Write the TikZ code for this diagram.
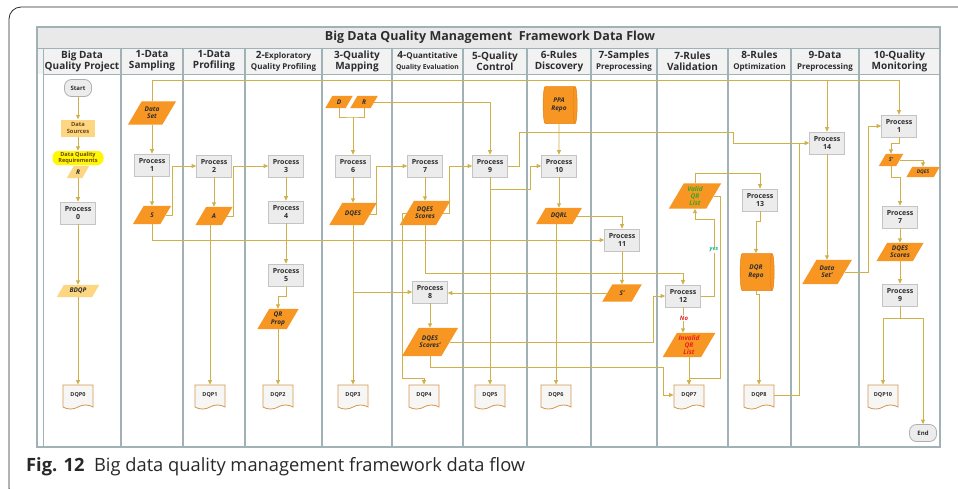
\documentclass[tikz,border=0pt]{standalone}
\usepackage{fontspec}
\setmainfont{Open Sans}
\usetikzlibrary{arrows.meta,shapes.geometric,shapes.symbols,calc,patterns}
\pgfdeclarelayer{lanes}
\pgfdeclarelayer{shapes}
\pgfsetlayers{lanes,shapes,main}

\definecolor{flowc}{RGB}{208,176,72}
\definecolor{lanec}{RGB}{160,178,182}
\definecolor{darkor}{RGB}{247,150,34}
\definecolor{repodraw}{RGB}{228,128,20}
\definecolor{lightor}{RGB}{253,214,130}
\definecolor{reqc}{RGB}{255,248,0}
\definecolor{procfill}{RGB}{236,236,236}
\definecolor{procdraw}{RGB}{196,196,196}
\definecolor{docdraw}{RGB}{214,150,80}
\definecolor{docfill}{RGB}{246,246,244}
\definecolor{pilldraw}{RGB}{175,175,175}
\definecolor{txt}{RGB}{45,45,45}
\definecolor{srctxt}{RGB}{110,70,20}
\definecolor{hdrfill}{RGB}{242,242,242}
\definecolor{titlefill}{RGB}{232,232,232}
\definecolor{validc}{RGB}{50,170,40}
\definecolor{invalidc}{RGB}{235,30,30}
\definecolor{yesc}{RGB}{20,180,130}
\definecolor{framec}{RGB}{40,40,40}

\newcommand\fs[2]{\fontsize{#1}{#2}\selectfont}
\newcommand\hsm{\fontsize{8}{9}\selectfont}
\newcommand\hxsm{\fontsize{6.8}{8}\selectfont}

\tikzset{
  flow/.style={draw=flowc, line width=0.9pt, -{Triangle[length=4.5pt,width=4pt]}},
  link/.style={draw=flowc, line width=0.9pt},
  hdr/.style={align=center, font=\fs{10}{11}\bfseries, text=txt, inner sep=0pt},
  proc/.style={rectangle, fill=procfill, draw=procdraw, line width=0.7pt,
    minimum width=35pt, minimum height=22pt, inner sep=0pt, align=center,
    font=\fs{7}{8}\bfseries, text=txt},
  pgtext/.style={rectangle, inner sep=0pt, align=center,
    font=\fs{6.5}{7.2}\bfseries\itshape, text=txt},
  docu/.style={tape, tape bend top=none, tape bend bottom=in and out,
    tape bend height=4pt, draw=docdraw, fill=docfill, line width=0.8pt,
    minimum width=30pt, minimum height=24pt, inner sep=0pt,
    font=\fs{5.5}{6.5}\bfseries, text=txt},
  repo/.style={cylinder, shape border rotate=0, aspect=0.3, fill=darkor,
    draw=repodraw, line width=0.5pt, minimum width=37pt, minimum height=34pt,
    inner sep=0pt, align=center, font=\fs{6.5}{7.2}\bfseries\itshape, text=txt},
  pill/.style={rectangle, rounded corners=7pt, fill=procfill, draw=pilldraw,
    line width=0.8pt, minimum width=27pt, minimum height=17pt, inner sep=0pt,
    font=\fs{6}{7}\bfseries, text=txt},
  srcbox/.style={rectangle, fill=lightor, minimum width=34pt, minimum height=17pt,
    inner sep=0pt, align=center, font=\fs{5.8}{6.6}\bfseries, text=srctxt},
  reqbox/.style={rectangle, rounded corners=6pt, fill=reqc, minimum width=51pt,
    minimum height=14pt, inner sep=0pt, align=center, font=\fs{5.6}{6}\bfseries,
    text=srctxt},
}

% parallelogram: [fill]{name}{position}{mid width}{height}{extra style}{text}
\newcommand\pgram[7][darkor]{%
  \node[pgtext, minimum width=#4, minimum height=#5, #6] (#2) at (#3) {#7};
  \begin{pgfonlayer}{shapes}
    \fill[#1] ($(#2.south west)+(-0.3*#5,0pt)$) -- ($(#2.south east)+(-0.3*#5,0pt)$)
      -- ($(#2.north east)+(0.3*#5,0pt)$) -- ($(#2.north west)+(0.3*#5,0pt)$) -- cycle;
  \end{pgfonlayer}}

\begin{document}
\begin{tikzpicture}[x=1pt,y=-1pt]
\useasboundingbox (0,0) rectangle (958,488);

% page, frame, swimlanes
\begin{pgfonlayer}{lanes}
  \fill[white] (0,0) rectangle (958,488);
  \draw[framec, line width=0.8pt, rounded corners=12pt] (9,7) rectangle (990,500);
  \fill[titlefill] (37,27) rectangle (940,48);
  \fill[pattern=north east lines, pattern color=white!85!gray] (37,27) rectangle (940,48);
  \fill[hdrfill] (37,48) rectangle (940,74);
  \foreach \x in {121,183,245,322,392,463,527,591,657,728,791,859}
    {\draw[lanec, line width=1.1pt] (\x,48) -- (\x,447);}
  \draw[lanec, line width=0.8pt] (43,48) -- (43,447);
  \draw[lanec, line width=0.8pt] (43,74) -- (940,74);
  \draw[lanec, line width=0.8pt] (37,48) -- (940,48);
  \draw[lanec, line width=1.1pt] (37,27) rectangle (940,447);
\end{pgfonlayer}

% title and lane headers
\node[font=\fs{12.5}{14}\bfseries, text=txt, inner sep=0pt] (title) at (490,37.5)
  {Big Data Quality Management\ \ Framework Data Flow};
\node[hdr] (h0) at (82,61) {Big Data\\Quality Project};
\node[hdr] (h1) at (152,61) {1-Data\\Sampling};
\node[hdr] (h2) at (214,61) {1-Data\\Profiling};
\node[hdr] (h3) at (283.5,61) {2-{\hsm Exploratory}\\{\hsm Quality Profiling}};
\node[hdr] (h4) at (357,61) {3-Quality\\Mapping};
\node[hdr] (h5) at (427.5,61) {4-{\hsm Quantitative}\\{\hxsm Quality Evaluation}};
\node[hdr] (h6) at (495,61) {5-Quality\\Control};
\node[hdr] (h7) at (559,61) {6-Rules\\Discovery};
\node[hdr] (h8) at (624,61) {7-Samples\\{\hsm Preprocessing}};
\node[hdr] (h9) at (692.5,61) {7-Rules\\Validation};
\node[hdr] (h10) at (759.5,61) {8-Rules\\{\hsm Optimization}};
\node[hdr] (h11) at (825,61) {9-Data\\{\hsm Preprocessing}};
\node[hdr] (h12) at (899.5,61) {10-Quality\\Monitoring};

% Big Data Quality Project
\node[pill] (start) at (78,88) {Start};
\node[srcbox] (dsrc) at (78,128) {Data\\Sources};
\node[reqbox] (req) at (78,158) {Data Quality\\Requirements};
\pgram[lightor]{r0}{78,172}{15pt}{12pt}{}{R};
\node[proc] (p0) at (78,213) {Process\\0};
\pgram[lightor]{bdqp}{78,291}{35pt}{12pt}{}{BDQP};
\node[docu] (dqp0) at (78,395) {DQP0};

% 1-Data Sampling
\pgram{dset}{152,113}{34pt}{23pt}{}{Data\\Set};
\node[proc] (p1) at (152,165) {Process\\1};
\pgram{s}{152,215}{27pt}{18pt}{}{S};

% 1-Data Profiling
\node[proc] (p2) at (214,166) {Process\\2};
\pgram{a}{214,216}{26pt}{18pt}{}{A};
\node[docu] (dqp1) at (210,395) {DQP1};

% 2-Exploratory Quality Profiling
\node[proc] (p3) at (286,166) {Process\\3};
\node[proc] (p4) at (286,212) {Process\\4};
\node[proc] (p5) at (286,275) {Process\\5};
\pgram{qr}{278,319}{29pt}{20pt}{}{QR\\Prop};
\node[docu] (dqp2) at (278,395) {DQP2};

% 3-Quality Mapping
\pgram{d}{339,102}{20pt}{12pt}{}{D};
\pgram{r4}{364,102}{20pt}{12pt}{}{R};
\node[proc] (p6) at (353,166) {Process\\6};
\pgram{dqes}{353,214}{34pt}{22pt}{}{DQES};
\node[docu] (dqp3) at (353,395) {DQP3};

% 4-Quantitative Quality Evaluation
\node[proc] (p7) at (425,166) {Process\\7};
\pgram{dqess}{425,213}{36pt}{24pt}{}{DQES\\Scores};
\node[proc] (p8) at (430,292) {Process\\8};
\pgram{dqesp}{430,342}{39pt}{28pt}{}{DQES\\Scores'};
\node[docu] (dqp4) at (424,395) {DQP4};

% 5-Quality Control
\node[proc] (p9) at (490,166) {Process\\9};
\node[docu] (dqp5) at (490,395) {DQP5};

% 6-Rules Discovery
\node[repo] (ppa) at (559,105) {PPA\\Repo};
\node[proc] (p10) at (559,166) {Process\\10};
\pgram{dqrl}{559,216}{36pt}{16pt}{}{DQRL};
\node[docu] (dqp6) at (556,395) {DQP6};

% 7-Samples Preprocessing
\node[proc] (p11) at (622,240) {Process\\11};
\pgram{sp}{622,293}{29pt}{17pt}{}{S'};

% 7-Rules Validation
\node[proc] (p12) at (683,296) {Process\\12};
\pgram{inv}{689,345}{38pt}{24pt}{text=invalidc}{Invalid\\QR\\List};
\pgram{val}{695,196}{37pt}{25pt}{text=validc}{Valid\\QR\\List};
\node[docu] (dqp7) at (689,395) {DQP7};

% 8-Rules Optimization
\node[proc] (p13) at (760,200) {Process\\13};
\node[repo] (dqrr) at (756,272) {DQR\\Repo};
\node[docu] (dqp8) at (759,395) {DQP8};

% 9-Data Preprocessing
\node[proc] (p14) at (827,143) {Process\\14};
\pgram{dset2}{827,272}{35pt}{24pt}{}{Data\\Set'};

% 10-Quality Monitoring
\node[proc] (q1) at (899,126) {Process\\1};
\pgram{sp2}{891,160}{17pt}{12pt}{font=\fs{5.5}{6}\bfseries\itshape}{S'};
\pgram{dqes2}{923,172}{27pt}{10pt}{font=\fs{5}{6}\bfseries\itshape}{DQES};
\node[proc] (q7) at (900,217) {Process\\7};
\pgram{dqess3}{900,252}{36pt}{18pt}{}{DQES\\Scores};
\node[proc] (q9) at (900,295) {Process\\9};
\node[docu] (dqp10) at (883,395) {DQP10};
\node[pill] (endn) at (923,433) {End};

% helper levels
\coordinate (topl) at (152,80);
\coordinate (dj) at (353,117);
\coordinate (c132) at (0,132);
\coordinate (c189) at (0,189);
\coordinate (c219) at (0,219);
\coordinate (c273) at (0,273);
\coordinate (c367) at (0,367);
\coordinate (c378) at (0,378);
\coordinate (k1) at (653,0);
\coordinate (k2) at (663,0);
\coordinate (k3) at (530,0);
\coordinate (k4) at (519,0);
\coordinate (k5) at (733,0);
\coordinate (k6) at (714,0);
\coordinate (k7) at (720,0);
\coordinate (k8) at (799,0);
\coordinate (k9) at (868,0);

% project lane
\draw[flow] (start) -- (dsrc);
\draw[flow] (dsrc) -- (req);
\draw[flow] (r0) -- (p0);
\draw[flow] (p0) -- (bdqp);
\draw[flow] (bdqp) -- (dqp0);

% sampling and profiling
\draw[flow] (dset) -- (p1);
\draw[flow] (dset.north) -- (topl) -| (q1.north);
\draw[flow] (p14.north |- topl) -- (p14.north);
\draw[flow] (p1) -- (s);
\draw[flow] (s.east) -- ++(7,0) |- (p2.west);
\draw[flow] (s.south) |- (p11.west);
\draw[flow] (p2) -- (a);
\draw[flow] (a.east) -- ++(6,0) |- (p3.west);
\draw[flow] (dqp1.north |- a.south) -- (dqp1.north);

% exploratory profiling
\draw[flow] (p3) -- (p4);
\draw[flow] (p4) -- (p5);
\draw[flow] (p5.south) -- ++(0,10) -| (qr.north);
\draw[flow] (qr) -- (dqp2);

% quality mapping
\draw[link] (d.south) |- (dj) -| (r4.south);
\draw[flow] (dj) -- (p6.north);
\draw[flow] (r4.east) -| (p9.north);
\draw[flow] (p6) -- (dqes);
\draw[flow] (dqes.east) -- ++(6,0) |- (p7.west);
\draw[flow] (dqes) -- (dqp3);
\draw[flow] (dqes.south |- p8.west) -- (p8.west);

% quantitative evaluation
\draw[flow] (p7) -- (dqess);
\draw[flow] (dqess.east) -- ++(6,0) |- (p9.west);
\draw[flow] (dqess.south) |- (c273 -| p12.north) -- (p12.north);
\draw[flow] (dqess.west) -- ++(-4,0) |- (c378 -| dqp4.north) -- (dqp4.north);
\draw[flow] (p8) -- (dqesp);
\draw[flow] (dqesp.east) -| (k1 |- p12.west) -- (p12.west);
\draw[flow] (dqesp.south) |- (c367 -| k2) |- (dqp7.west);
\draw[flow] (sp.west) -- (sp.west -| p8.east);

% quality control
\draw[flow] (p9.south) |- (c189 -| k3) |- (p10.west);
\draw[flow] (p9) -- (dqp5);
\draw[flow] (p9.east) -| (k4 |- c132) -| (k5 |- p14.west) -- (p14.west);

% rules discovery
\draw[flow] (ppa) -- (p10);
\draw[flow] (p10) -- (dqrl);
\draw[flow] (dqrl.east) -| (p11.north);
\draw[flow] (dqp6.north |- dqrl.south) -- (dqp6.north);

% samples preprocessing
\draw[flow] (p11) -- (sp);

% rules validation
\draw[flow] (p12.south) -- (p12.south |- inv.north);
\draw[flow] (inv) -- (dqp7);
\draw[flow] (p12.east) -| (k6 |- c219) -| (val.south);
\draw[flow] (val.north) -- ++(0,-10) -| (p13.north);
\draw[flow] (val.east) -| (k7 |- c378) -| (dqp7.north);
\node[font=\fs{6}{7}\bfseries\itshape, text=invalidc, fill=white, inner sep=0.6pt] (nolbl) at (684,318) {No};
\node[font=\fs{5.5}{6}\bfseries\itshape, text=yesc, fill=white, inner sep=0.6pt] (yeslbl) at (714,250) {yes};

% rules optimization
\draw[flow] (p13.south) -- ++(0,10) -| (dqrr.north);
\draw[flow] (dqrr.south) -- ++(0,4) -| (dqp8.north);
\draw[link] (dqp8.east) -| (k8 |- p14.west);

% data preprocessing
\draw[flow] (p14) -- (dset2);
\draw[flow] (dset2.east) -| (k9 |- q1.west) -- (q1.west);

% quality monitoring
\draw[flow] (q1.south) -- ++(0,6) -| (sp2.north);
\draw[flow] (sp2.east) -| (dqes2.north);
\draw[flow] (sp2.south) -- ++(0,11) -| (q7.north);
\draw[flow] (q7) -- (dqess3);
\draw[flow] (dqess3) -- (q9);
\draw[flow] (q9.south) -- ++(0,12) -| (dqp10.north);
\draw[flow] (q9.south) -- ++(0,12) -| (endn.north);

% caption
\node[anchor=base west, font=\fs{18.3}{21}, text=framec, inner sep=0pt] (cap) at (26,471)
  {\textbf{Fig. 12}\ \ Big data quality management framework data flow};
\end{tikzpicture}
\end{document}
